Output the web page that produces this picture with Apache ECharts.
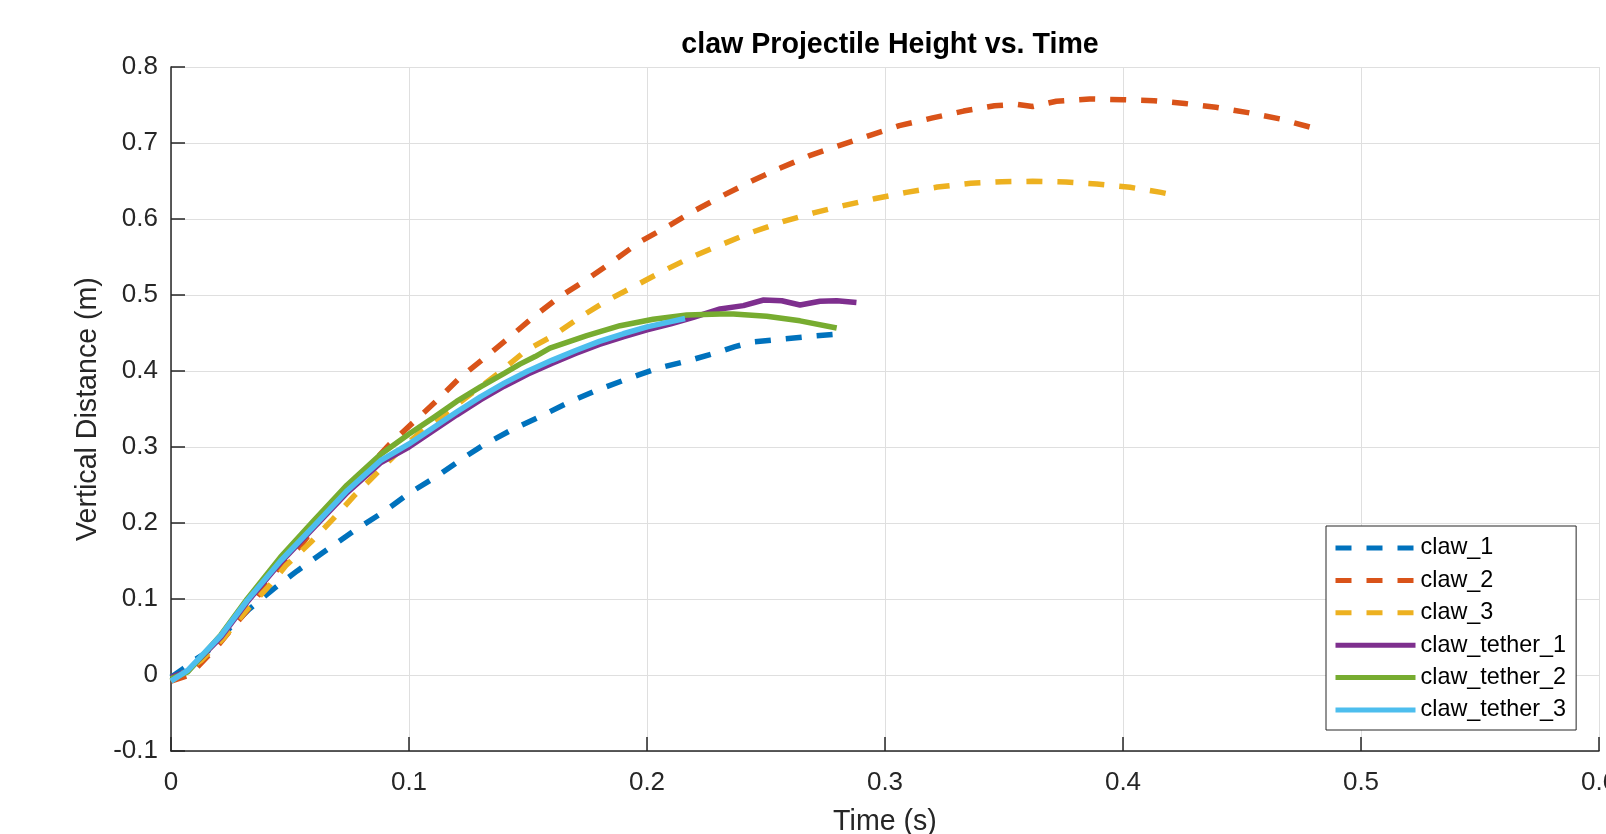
<!DOCTYPE html>
<html>
<head>
<meta charset="utf-8">
<script src="https://cdn.jsdelivr.net/npm/echarts@6/dist/echarts.min.js"></script>
<style>
html,body{margin:0;padding:0;background:#fff;overflow:hidden;}
#chart{width:1606px;height:834px;}
</style>
</head>
<body>
<div id="chart"></div>
<script>
// ---- data (time in s, vertical distance in m) ----
const seriesNames = ['claw_1', 'claw_2', 'claw_3', 'claw_tether_1', 'claw_tether_2', 'claw_tether_3'];

const claw1T = [0, 0.005, 0.010, 0.015, 0.020, 0.025, 0.033, 0.043, 0.053, 0.067, 0.078, 0.090, 0.100, 0.112, 0.123, 0.131, 0.144, 0.155, 0.168, 0.180, 0.193, 0.205, 0.218, 0.229, 0.237, 0.244, 0.257, 0.270, 0.278];
const claw1V = [-0.003, 0.008, 0.020, 0.030, 0.045, 0.063, 0.087, 0.113, 0.137, 0.168, 0.192, 0.216, 0.239, 0.262, 0.286, 0.302, 0.324, 0.340, 0.360, 0.376, 0.391, 0.404, 0.414, 0.424, 0.432, 0.438, 0.442, 0.446, 0.448];

const claw2T = [0, 0.008, 0.020, 0.032, 0.045, 0.055, 0.064, 0.074, 0.083, 0.092, 0.102, 0.112, 0.121, 0.132, 0.1425, 0.153, 0.163, 0.175, 0.186, 0.197, 0.208, 0.220, 0.232, 0.244, 0.256, 0.268, 0.281, 0.294, 0.306, 0.320, 0.333, 0.346, 0.355, 0.362, 0.372, 0.386, 0.400, 0.413, 0.426, 0.439, 0.4525, 0.466, 0.482];
const claw2V = [-0.008, 0.000, 0.040, 0.085, 0.140, 0.172, 0.210, 0.2425, 0.274, 0.304, 0.333, 0.362, 0.390, 0.418, 0.445, 0.473, 0.497, 0.521, 0.545, 0.570, 0.589, 0.611, 0.631, 0.650, 0.667, 0.683, 0.697, 0.7105, 0.7228, 0.733, 0.742, 0.749, 0.751, 0.748, 0.755, 0.758, 0.757, 0.7557, 0.752, 0.747, 0.740, 0.7316, 0.718];

const claw3T = [0, 0.0126, 0.0224, 0.0315, 0.0406, 0.0483, 0.0588, 0.068, 0.077, 0.0966, 0.1065, 0.117, 0.127, 0.138, 0.149, 0.1606, 0.1718, 0.183, 0.195, 0.207, 0.2195, 0.231, 0.244, 0.257, 0.270, 0.2825, 0.296, 0.309, 0.322, 0.336, 0.349, 0.362, 0.376, 0.389, 0.403, 0.416, 0.419];
const claw3V = [-0.008, 0.019, 0.0496, 0.0846, 0.115, 0.144, 0.175, 0.205, 0.236, 0.297, 0.324, 0.348, 0.372, 0.398, 0.4267, 0.4465, 0.4706, 0.4925, 0.512, 0.532, 0.551, 0.566, 0.5825, 0.5965, 0.608, 0.6175, 0.627, 0.635, 0.642, 0.647, 0.649, 0.6496, 0.6487, 0.646, 0.6417, 0.635, 0.633];

const tether1T = [0, 0.007, 0.021, 0.032, 0.046, 0.060, 0.074, 0.088, 0.100, 0.110, 0.120, 0.130, 0.140, 0.150, 0.160, 0.170, 0.180, 0.190, 0.200, 0.210, 0.2195, 0.2307, 0.2405, 0.249, 0.2566, 0.2643, 0.2727, 0.2797, 0.288];
const tether1V = [-0.003, 0.005, 0.050, 0.096, 0.148, 0.194, 0.240, 0.279, 0.300, 0.321, 0.342, 0.362, 0.380, 0.396, 0.410, 0.423, 0.435, 0.445, 0.454, 0.462, 0.4706, 0.4816, 0.486, 0.4934, 0.4925, 0.4868, 0.4917, 0.4925, 0.490];

const tether2T = [0, 0.007, 0.021, 0.032, 0.046, 0.060, 0.074, 0.088, 0.100, 0.110, 0.120, 0.130, 0.140, 0.1466, 0.153, 0.1592, 0.1747, 0.1887, 0.2026, 0.2167, 0.2307, 0.2363, 0.2503, 0.2643, 0.2797];
const tether2V = [-0.005, 0.004, 0.053, 0.100, 0.155, 0.203, 0.250, 0.290, 0.317, 0.338, 0.360, 0.379, 0.397, 0.409, 0.419, 0.430, 0.4465, 0.4596, 0.468, 0.4737, 0.475, 0.475, 0.472, 0.466, 0.4566];

const tether3T = [0, 0.007, 0.021, 0.032, 0.046, 0.060, 0.074, 0.088, 0.100, 0.110, 0.120, 0.130, 0.140, 0.150, 0.160, 0.170, 0.180, 0.190, 0.200, 0.210, 0.216];
const tether3V = [-0.008, 0.006, 0.052, 0.098, 0.150, 0.196, 0.2425, 0.282, 0.304, 0.325, 0.346, 0.366, 0.384, 0.400, 0.414, 0.427, 0.439, 0.449, 0.458, 0.465, 0.469];

const xTicks = [0, 0.1, 0.2, 0.3, 0.4, 0.5, 0.6];
const yTicks = [-0.1, 0, 0.1, 0.2, 0.3, 0.4, 0.5, 0.6, 0.7, 0.8];

const colors = ['#0072BD', '#D95319', '#EDB120', '#7E2F8E', '#77AC30', '#4DBEEE'];
const dashed = [true, true, true, false, false, false];

const tArrays = [claw1T, claw2T, claw3T, tether1T, tether2T, tether3T];
const vArrays = [claw1V, claw2V, claw3V, tether1V, tether2V, tether3V];

const FONT = "'Liberation Sans', Arial, Helvetica, sans-serif";
const INK = '#262626';

const series = seriesNames.map((name, i) => ({
  name: name,
  type: 'line',
  data: tArrays[i].map((t, k) => [t, vArrays[i][k]]),
  symbol: 'none',
  smooth: false,
  color: colors[i],
  lineStyle: {
    color: colors[i],
    width: 5.5,
    type: dashed[i] ? [16, 15] : 'solid',
    cap: 'butt',
    join: 'round'
  },
  z: 2 + i
}));

const chart = echarts.init(document.getElementById('chart'), null, {renderer: 'canvas'});
chart.setOption({
  animation: false,
  backgroundColor: '#ffffff',
  title: {
    text: 'claw Projectile Height vs. Time',
    left: 885,
    top: 26,
    textAlign: 'center',
    textStyle: {fontFamily: FONT, fontWeight: 'bold', fontSize: 28.6, color: '#000'}
  },
  grid: {left: 171, top: 67, right: 7, bottom: 83, containLabel: false, outerBoundsMode: 'none'},
  legend: {
    data: seriesNames,
    orient: 'vertical',
    left: 1326,
    top: 526,
    itemWidth: 80,
    itemHeight: 24,
    itemGap: 8.4,
    padding: [10, 10, 8, 7],
    borderColor: INK,
    borderWidth: 1,
    backgroundColor: '#ffffff',
    itemStyle: {opacity: 0},
    lineStyle: {width: 5, type: 'inherit', cap: 'butt'},
    textStyle: {fontFamily: FONT, fontSize: 23.4, color: '#000', lineHeight: 24}
  },
  xAxis: {
    type: 'value',
    min: xTicks[0],
    max: xTicks[xTicks.length - 1],
    interval: 0.1,
    name: 'Time (s)',
    nameLocation: 'middle',
    nameGap: 57,
    nameTextStyle: {fontFamily: FONT, fontSize: 28.6, color: INK},
    axisLine: {show: true, onZero: false, lineStyle: {color: INK, width: 1.5}},
    axisTick: {show: true, inside: true, length: 14, lineStyle: {color: INK, width: 1.5}},
    axisLabel: {fontFamily: FONT, fontSize: 26, color: INK, margin: 19, showMaxLabel: true, hideOverlap: false},
    splitLine: {show: true, lineStyle: {color: '#dfdfdf', width: 1}}
  },
  yAxis: {
    type: 'value',
    min: yTicks[0],
    max: yTicks[yTicks.length - 1],
    interval: 0.1,
    name: 'Vertical Distance (m)',
    nameLocation: 'middle',
    nameGap: 64,
    nameTextStyle: {fontFamily: FONT, fontSize: 28.6, color: INK},
    axisLine: {show: true, onZero: false, lineStyle: {color: INK, width: 1.5}},
    axisTick: {show: true, inside: true, length: 14, lineStyle: {color: INK, width: 1.5}},
    axisLabel: {fontFamily: FONT, fontSize: 26, color: INK, margin: 13, showMinLabel: true, showMaxLabel: true},
    splitLine: {show: true, lineStyle: {color: '#dfdfdf', width: 1}}
  },
  series: series
});
</script>
</body>
</html>
